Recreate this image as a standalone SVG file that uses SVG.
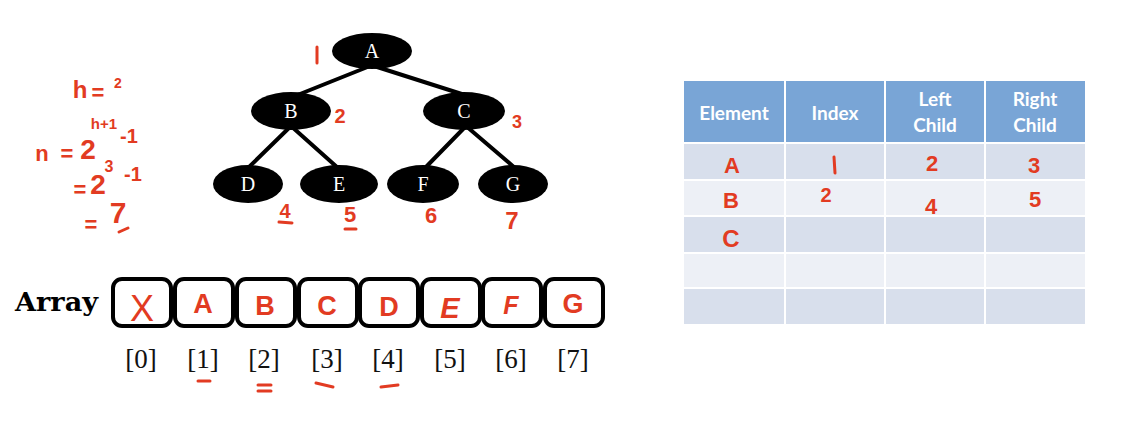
<svg xmlns="http://www.w3.org/2000/svg" width="1122" height="442" viewBox="0 0 1122 442">
  <style>
    .edge { stroke: #000; stroke-width: 4; stroke-linecap: round; }
    .node { fill: #000; }
    .nlab { font-family: "Liberation Serif", serif; font-size: 20px; fill: #fff; text-anchor: middle; }
    .ink { font-family: "Liberation Sans", sans-serif; font-weight: bold; fill: #E23B22; text-anchor: middle; }
    .inkline { stroke: #E23B22; stroke-width: 3; stroke-linecap: round; fill: none; }
    .cell { fill: #fff; stroke: #000; stroke-width: 4; }
    .idx { font-family: "Liberation Serif", serif; font-size: 27px; fill: #111; text-anchor: middle; }
    .hdr { fill: #79A5D6; }
    .rowA { fill: #D8DFEC; }
    .rowB { fill: #EDF0F6; }
    .hlab { font-family: "Lato", "Open Sans", sans-serif; font-weight: bold; font-size: 19px; fill: #fff; text-anchor: middle; }
  </style>

  <rect width="1122" height="442" fill="#fff"/>

  <!-- handwritten height / node count working -->
  <g id="formula">
    <text class="ink" x="80" y="98" font-size="24">h</text>
    <text class="ink" x="98" y="100" font-size="22">=</text>
    <text class="ink" x="118" y="88" font-size="14">2</text>
    <text class="ink" x="42" y="161" font-size="22">n</text>
    <text class="ink" x="67" y="161" font-size="22">=</text>
    <text class="ink" x="88" y="159" font-size="28">2</text>
    <text class="ink" x="104" y="129" font-size="15">h+1</text>
    <text class="ink" x="129" y="143" font-size="20">-1</text>
    <text class="ink" x="80" y="197" font-size="22">=</text>
    <text class="ink" x="98" y="194" font-size="28">2</text>
    <text class="ink" x="109" y="172" font-size="16">3</text>
    <text class="ink" x="133" y="181" font-size="20">-1</text>
    <text class="ink" x="91" y="232" font-size="22">=</text>
    <text class="ink" x="118" y="223" font-size="30">7</text>
    <line class="inkline" x1="119" y1="232" x2="128" y2="228"/>
  </g>

  <!-- tree connectors -->
  <g id="connectors">
    <line class="edge" x1="370" y1="66" x2="295" y2="96"/>
    <line class="edge" x1="374" y1="66" x2="468" y2="96"/>
    <line class="edge" x1="291" y1="126" x2="248" y2="168"/>
    <line class="edge" x1="291" y1="126" x2="338" y2="168"/>
    <line class="edge" x1="466" y1="126" x2="425" y2="168"/>
    <line class="edge" x1="466" y1="126" x2="515" y2="168"/>
  </g>

  <!-- tree nodes -->
  <g id="node-A"><ellipse class="node" cx="372" cy="51" rx="40" ry="18"/><text class="nlab" x="372" y="58">A</text></g>
  <g id="node-B"><ellipse class="node" cx="291" cy="111" rx="40" ry="19"/><text class="nlab" x="291" y="118">B</text></g>
  <g id="node-C"><ellipse class="node" cx="464" cy="111" rx="41" ry="19"/><text class="nlab" x="464" y="118">C</text></g>
  <g id="node-D"><ellipse class="node" cx="248" cy="184" rx="35" ry="19"/><text class="nlab" x="248" y="191">D</text></g>
  <g id="node-E"><ellipse class="node" cx="339" cy="184" rx="39" ry="19"/><text class="nlab" x="339" y="191">E</text></g>
  <g id="node-F"><ellipse class="node" cx="423" cy="184" rx="36" ry="19"/><text class="nlab" x="423" y="191">F</text></g>
  <g id="node-G"><ellipse class="node" cx="513" cy="184" rx="35" ry="19"/><text class="nlab" x="513" y="191">G</text></g>

  <!-- node numbering -->
  <g id="tree-indices">
    <line class="inkline" x1="317" y1="47" x2="317" y2="63"/>
    <text class="ink" x="340" y="123" font-size="20">2</text>
    <text class="ink" x="517" y="128" font-size="18">3</text>
    <text class="ink" x="285" y="218" font-size="20">4</text>
    <line class="inkline" x1="279" y1="222" x2="292" y2="223"/>
    <text class="ink" x="350" y="222" font-size="22">5</text>
    <line class="inkline" x1="345" y1="229" x2="356" y2="229"/>
    <text class="ink" x="431" y="223" font-size="22">6</text>
    <text class="ink" x="512" y="229" font-size="24">7</text>
  </g>

  <!-- array -->
  <g id="array">
    <text x="15" y="311" font-family="'DejaVu Serif', serif" font-weight="bold" font-size="26" textLength="83" lengthAdjust="spacingAndGlyphs" fill="#000">Array</text>
    <rect class="cell" x="113" y="279" width="58" height="47" rx="9"/>
    <rect class="cell" x="175" y="279" width="58" height="47" rx="9"/>
    <rect class="cell" x="237" y="279" width="58" height="47" rx="9"/>
    <rect class="cell" x="299" y="279" width="58" height="47" rx="9"/>
    <rect class="cell" x="360" y="279" width="58" height="47" rx="9"/>
    <rect class="cell" x="422" y="279" width="58" height="47" rx="9"/>
    <rect class="cell" x="483" y="279" width="58" height="47" rx="9"/>
    <rect class="cell" x="545" y="279" width="58" height="47" rx="9"/>
    <text class="ink" x="142" y="321" font-size="36" style="font-weight:normal">X</text>
    <text class="ink" x="203" y="313" font-size="27">A</text>
    <text class="ink" x="265" y="315" font-size="27">B</text>
    <text class="ink" x="327" y="315" font-size="27">C</text>
    <text class="ink" x="389" y="316" font-size="27">D</text>
    <text class="ink" x="450" y="318" font-size="29" font-style="italic">E</text>
    <text class="ink" x="511" y="314" font-size="25" font-style="italic">F</text>
    <text class="ink" x="573" y="313" font-size="27">G</text>
    <text class="idx" x="141" y="368">[0]</text>
    <text class="idx" x="203" y="368">[1]</text>
    <text class="idx" x="264" y="368">[2]</text>
    <text class="idx" x="327" y="368">[3]</text>
    <text class="idx" x="388" y="368">[4]</text>
    <text class="idx" x="450" y="368">[5]</text>
    <text class="idx" x="511" y="368">[6]</text>
    <text class="idx" x="573" y="368">[7]</text>
    <line class="inkline" x1="198" y1="381" x2="210" y2="381"/>
    <line class="inkline" x1="258" y1="385" x2="271" y2="385"/>
    <line class="inkline" x1="258" y1="391" x2="271" y2="391"/>
    <line class="inkline" x1="316" y1="383" x2="333" y2="387"/>
    <line class="inkline" x1="381" y1="387" x2="398" y2="385"/>
  </g>

  <!-- element / index table -->
  <g id="table">
    <rect class="hdr" x="684" y="81" width="100" height="61"/>
    <rect class="hdr" x="786" y="81" width="98" height="61"/>
    <rect class="hdr" x="886" y="81" width="98" height="61"/>
    <rect class="hdr" x="986" y="81" width="99" height="61"/>
    <text class="hlab" x="734" y="120">Element</text>
    <text class="hlab" x="835" y="120">Index</text>
    <text class="hlab" x="935" y="106">Left</text>
    <text class="hlab" x="935" y="132">Child</text>
    <text class="hlab" x="1035" y="106">Right</text>
    <text class="hlab" x="1035" y="132">Child</text>

    <rect class="rowA" x="684" y="144" width="100" height="35"/>
    <rect class="rowA" x="786" y="144" width="98" height="35"/>
    <rect class="rowA" x="886" y="144" width="98" height="35"/>
    <rect class="rowA" x="986" y="144" width="99" height="35"/>

    <rect class="rowB" x="684" y="181" width="100" height="34"/>
    <rect class="rowB" x="786" y="181" width="98" height="34"/>
    <rect class="rowB" x="886" y="181" width="98" height="34"/>
    <rect class="rowB" x="986" y="181" width="99" height="34"/>

    <rect class="rowA" x="684" y="217" width="100" height="35"/>
    <rect class="rowA" x="786" y="217" width="98" height="35"/>
    <rect class="rowA" x="886" y="217" width="98" height="35"/>
    <rect class="rowA" x="986" y="217" width="99" height="35"/>

    <rect class="rowB" x="684" y="254" width="100" height="33"/>
    <rect class="rowB" x="786" y="254" width="98" height="33"/>
    <rect class="rowB" x="886" y="254" width="98" height="33"/>
    <rect class="rowB" x="986" y="254" width="99" height="33"/>

    <rect class="rowA" x="684" y="289" width="100" height="35"/>
    <rect class="rowA" x="786" y="289" width="98" height="35"/>
    <rect class="rowA" x="886" y="289" width="98" height="35"/>
    <rect class="rowA" x="986" y="289" width="99" height="35"/>

    <text class="ink" x="732" y="173" font-size="22">A</text>
    <line class="inkline" x1="834" y1="157" x2="835" y2="173"/>
    <text class="ink" x="932" y="171" font-size="22">2</text>
    <text class="ink" x="1034" y="173" font-size="22">3</text>
    <text class="ink" x="731" y="208" font-size="22">B</text>
    <text class="ink" x="826" y="202" font-size="20">2</text>
    <text class="ink" x="931" y="214" font-size="22">4</text>
    <text class="ink" x="1035" y="207" font-size="22">5</text>
    <text class="ink" x="731" y="247" font-size="24">C</text>
  </g>
</svg>
